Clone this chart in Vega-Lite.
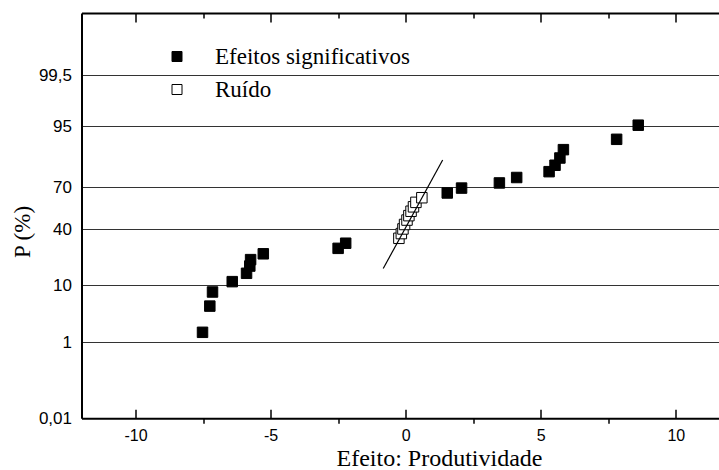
{
  "$schema": "https://vega.github.io/schema/vega-lite/v6.json",
  "width": 637.5,
  "height": 405.3,
  "autosize": {"type": "none"},
  "padding": {"left": 81.5, "top": 13, "right": 0, "bottom": 51.7},
  "background": "white",
  "config": {
    "view": {"stroke": null},
    "axis": {"domainColor": "black", "tickColor": "black", "labelColor": "black", "titleColor": "black", "titleFontWeight": "normal"}
  },
  "datasets": {
    "pontos": [
      {"efeito": -7.52, "z": -2.141, "tipo": "Efeitos significativos"},
      {"efeito": -7.25, "z": -1.660, "tipo": "Efeitos significativos"},
      {"efeito": -7.15, "z": -1.401, "tipo": "Efeitos significativos"},
      {"efeito": -6.42, "z": -1.211, "tipo": "Efeitos significativos"},
      {"efeito": -5.89, "z": -1.058, "tipo": "Efeitos significativos"},
      {"efeito": -5.77, "z": -0.925, "tipo": "Efeitos significativos"},
      {"efeito": -5.74, "z": -0.807, "tipo": "Efeitos significativos"},
      {"efeito": -5.27, "z": -0.700, "tipo": "Efeitos significativos"},
      {"efeito": -2.50, "z": -0.600, "tipo": "Efeitos significativos"},
      {"efeito": -2.22, "z": -0.506, "tipo": "Efeitos significativos"},
      {"efeito": -0.25, "z": -0.416, "tipo": "Ruído"},
      {"efeito": -0.16, "z": -0.329, "tipo": "Ruído"},
      {"efeito": -0.10, "z": -0.244, "tipo": "Ruído"},
      {"efeito": -0.04, "z": -0.162, "tipo": "Ruído"},
      {"efeito": 0.05, "z": -0.081, "tipo": "Ruído"},
      {"efeito": 0.12, "z": 0.0, "tipo": "Ruído"},
      {"efeito": 0.20, "z": 0.081, "tipo": "Ruído"},
      {"efeito": 0.29, "z": 0.162, "tipo": "Ruído"},
      {"efeito": 0.38, "z": 0.244, "tipo": "Ruído"},
      {"efeito": 0.60, "z": 0.329, "tipo": "Ruído"},
      {"efeito": 1.54, "z": 0.416, "tipo": "Efeitos significativos"},
      {"efeito": 2.07, "z": 0.506, "tipo": "Efeitos significativos"},
      {"efeito": 3.47, "z": 0.600, "tipo": "Efeitos significativos"},
      {"efeito": 4.11, "z": 0.700, "tipo": "Efeitos significativos"},
      {"efeito": 5.31, "z": 0.807, "tipo": "Efeitos significativos"},
      {"efeito": 5.53, "z": 0.925, "tipo": "Efeitos significativos"},
      {"efeito": 5.71, "z": 1.058, "tipo": "Efeitos significativos"},
      {"efeito": 5.84, "z": 1.211, "tipo": "Efeitos significativos"},
      {"efeito": 7.81, "z": 1.401, "tipo": "Efeitos significativos"},
      {"efeito": 8.61, "z": 1.660, "tipo": "Efeitos significativos"}
    ],
    "linha": [
      {"efeito": -0.83, "z": -0.97},
      {"efeito": 1.37, "z": 1.02}
    ]
  },
  "resolve": {
    "scale": {"x": "independent", "y": "independent"},
    "axis": {"x": "independent", "y": "independent"}
  },
  "layer": [
    {
      "data": {"name": "pontos"},
      "mark": {"type": "point", "shape": "square", "filled": true, "size": 110, "stroke": "black", "strokeWidth": 1, "opacity": 1},
      "encoding": {
        "x": {
          "field": "efeito", "type": "quantitative",
          "scale": {"domain": [-12, 11.6], "nice": false, "zero": false},
          "axis": {
            "orient": "bottom", "values": [-10, -5, 0, 5, 10], "tickSize": -9, "tickWidth": 1.5,
            "domainWidth": 2, "grid": false,
            "labelExpr": "'' + datum.value",
            "labelFont": "Liberation Sans", "labelFontSize": 16, "labelPadding": 18.5,
            "title": "Efeito: Produtividade", "titleFont": "Liberation Serif", "titleFontSize": 24,
            "titleX": 357.5, "titleY": 47, "titleBaseline": "alphabetic", "titleAlign": "center"
          }
        },
        "y": {
          "field": "z", "type": "quantitative",
          "scale": {"domain": [-3.719, 3.719], "nice": false, "zero": false},
          "axis": {
            "orient": "left", "values": [-3.719, -2.326, -1.2816, -0.2533, 0.5244, 1.6449, 2.5758],
            "labelExpr": "datum.value < -3 ? '0,01' : datum.value < -2 ? '1' : datum.value < -1 ? '10' : datum.value < 0 ? '40' : datum.value < 1 ? '70' : datum.value < 2 ? '95' : '99,5'",
            "grid": true, "gridColor": "#333333", "gridWidth": 1, "gridOpacity": 1,
            "ticks": false, "domainWidth": 2,
            "labelFont": "Liberation Sans", "labelFontSize": 17, "labelPadding": 10,
            "title": "P (%)", "titleFont": "Liberation Serif", "titleFontSize": 23,
            "titleX": -52.2, "titleY": 218.5, "titleBaseline": "alphabetic", "titleAlign": "center"
          }
        },
        "fill": {
          "field": "tipo", "type": "nominal",
          "scale": {"domain": ["Efeitos significativos", "Ruído"], "range": ["black", "white"]},
          "legend": {
            "orient": "none", "legendX": 84, "legendY": 32, "title": null,
            "symbolType": "square", "symbolSize": 100, "symbolStrokeColor": "black", "symbolStrokeWidth": 1,
            "labelFont": "Liberation Serif", "labelFontSize": 23, "labelColor": "black", "labelLimit": 0,
            "labelOffset": 26.5, "rowPadding": 9, "padding": 0
          }
        }
      }
    },
    {
      "data": {"name": "linha"},
      "mark": {"type": "line", "color": "black", "strokeWidth": 1.2},
      "encoding": {
        "x": {
          "field": "efeito", "type": "quantitative",
          "scale": {"domain": [-12, 11.6], "nice": false, "zero": false},
          "axis": {"orient": "bottom", "values": [-7.5, -2.5, 2.5, 7.5], "tickSize": 5, "tickWidth": 1.5, "labels": false, "domain": false, "grid": false, "title": null}
        },
        "y": {
          "field": "z", "type": "quantitative",
          "scale": {"domain": [-3.719, 3.719], "nice": false, "zero": false},
          "axis": null
        }
      }
    },
    {
      "data": {"name": "linha"},
      "mark": {"type": "line", "color": "black", "strokeOpacity": 0},
      "encoding": {
        "x": {
          "field": "efeito", "type": "quantitative",
          "scale": {"domain": [-12, 11.6], "nice": false, "zero": false},
          "axis": {"orient": "top", "values": [-10, -5, 0, 5, 10], "tickSize": -9, "tickWidth": 1.5, "labels": false, "domain": true, "domainWidth": 2, "grid": false, "title": null}
        },
        "y": {
          "field": "z", "type": "quantitative",
          "scale": {"domain": [-3.719, 3.719], "nice": false, "zero": false},
          "axis": null
        }
      }
    },
    {
      "data": {"name": "linha"},
      "mark": {"type": "line", "color": "black", "strokeOpacity": 0},
      "encoding": {
        "x": {
          "field": "efeito", "type": "quantitative",
          "scale": {"domain": [-12, 11.6], "nice": false, "zero": false},
          "axis": {"orient": "top", "values": [-7.5, -2.5, 2.5, 7.5], "tickSize": -5, "tickWidth": 1.5, "labels": false, "domain": false, "grid": false, "title": null}
        },
        "y": {
          "field": "z", "type": "quantitative",
          "scale": {"domain": [-3.719, 3.719], "nice": false, "zero": false},
          "axis": null
        }
      }
    }
  ]
}
